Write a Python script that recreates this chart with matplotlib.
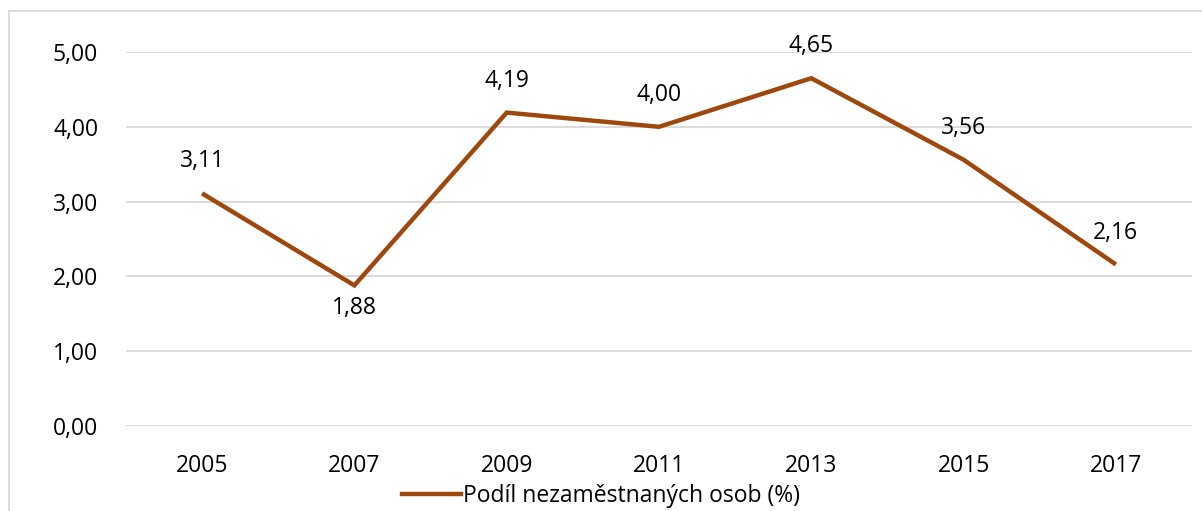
import matplotlib.pyplot as plt
from matplotlib.lines import Line2D

plt.rcParams['font.family'] = ['Open Sans', 'DejaVu Sans']

# data
years = ['2005', '2007', '2009', '2011', '2013', '2015', '2017']
share = [3.11, 1.88, 4.19, 4.00, 4.65, 3.56, 2.16]
label_below = [False, True, False, False, False, False, False]
series_name = 'Podíl nezaměstnaných osob (%)'

line_col = '#9E480E'
grid_col = '#D9D9D9'

fig = plt.figure(figsize=(12.02, 5.11), dpi=100)
ax = fig.add_axes([0.1048, 0.1663, 0.8869, 0.7319])

x = list(range(len(years)))
ax.plot(x, share, color=line_col, lw=3.2, solid_capstyle='butt', solid_joinstyle='miter')

for xi, v, below in zip(x, share, label_below):
    off = -16 if below else 23
    ax.annotate(f'{v:.2f}'.replace('.', ','), (xi, v), xytext=(0, off),
                textcoords='offset points', ha='center', va='center', fontsize=16.5)

ax.set_xlim(-0.5, len(years) - 0.5)
ax.set_ylim(0, 5)
ax.set_xticks(x)
ax.set_xticklabels(years)
ax.set_yticks([0, 1, 2, 3, 4, 5])
ax.set_yticklabels([f'{t:.2f}'.replace('.', ',') for t in range(6)])
ax.tick_params(length=0, labelsize=16.5)
ax.tick_params(axis='x', pad=20)
ax.tick_params(axis='y', pad=20)
ax.grid(axis='y', color=grid_col, lw=1.3)
ax.set_axisbelow(True)
for s in ax.spines.values():
    s.set_visible(False)
ax.axhline(0, color=grid_col, lw=1.3, zorder=1)

handle = Line2D([], [], color=line_col, lw=3.2)
fig.legend([handle], [series_name], loc='center', bbox_to_anchor=(0.5, 0.03),
           frameon=False, fontsize=16.5, handlelength=2.6, handletextpad=0.1)

# outer chart frame (only top and left visible in the crop)
fig.add_artist(Line2D([9 / 1202, 9 / 1202], [0, 1 - 11 / 511], color=grid_col, lw=1.3,
                      transform=fig.transFigure))
fig.add_artist(Line2D([9 / 1202, 1], [1 - 11 / 511, 1 - 11 / 511], color=grid_col, lw=1.3,
                      transform=fig.transFigure))

fig.savefig('out.png', dpi=100)
